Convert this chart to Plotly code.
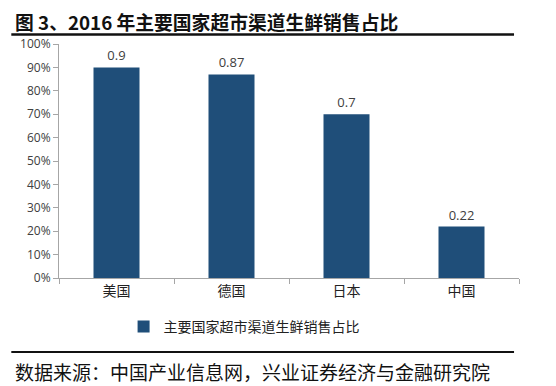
import plotly.graph_objects as go

categories = ["美国", "德国", "日本", "中国"]
values = [0.9, 0.87, 0.7, 0.22]
value_labels = ["0.9", "0.87", "0.7", "0.22"]
series_name = "主要国家超市渠道生鲜销售占比"
title_text = "图 3、2016 年主要国家超市渠道生鲜销售占比"
source_text = "数据来源：中国产业信息网，兴业证券经济与金融研究院"

# the page body has an 8px default margin, so the figure is drawn 8px in
OFF = 8
W, H = 556 - OFF, 386 - OFF
L, R, T, B = 56 - OFF, 37, 44 - OFF, 108
pw, ph = W - L - R, H - T - B

def px_x(x):
    return (x - OFF - L) / pw

def px_y(y):
    return (H - B - (y - OFF)) / ph

CJK = "Noto Sans CJK SC, Noto Sans, sans-serif"
bar_color = "#1F4E79"
text_color = "#404040"
axis_color = "#A6A6A6"

fig = go.Figure()
fig.add_trace(go.Bar(
    x=categories, y=values, name=series_name,
    marker=dict(color=bar_color, line=dict(width=0)),
    text=value_labels, textposition="outside",
    textfont=dict(size=13, color=text_color, family="Open Sans, sans-serif"),
    cliponaxis=False,
))

fig.update_layout(
    width=W, height=H,
    margin=dict(l=L, r=R, t=T, b=B),
    paper_bgcolor="white", plot_bgcolor="white",
    bargap=0.6,
    showlegend=True,
    legend=dict(orientation="h", x=px_x(121), xanchor="left", y=px_y(327), yanchor="middle",
                font=dict(size=14, color="#222222", family=CJK),
                itemwidth=30, bgcolor="rgba(0,0,0,0)"),
    annotations=[
        dict(text=title_text, xref="paper", yref="paper", x=px_x(10), y=px_y(22),
             xanchor="left", yanchor="middle", showarrow=False,
             font=dict(size=18.8, color="#111111", family=CJK, weight="bold")),
        dict(text=source_text, xref="paper", yref="paper", x=px_x(10), y=px_y(371),
             xanchor="left", yanchor="middle", showarrow=False,
             font=dict(size=19, color="#111111", family=CJK)),
    ],
    xaxis=dict(showline=True, linecolor=axis_color, linewidth=1,
               ticks="outside", tickson="boundaries", ticklen=5, tickcolor=axis_color,
               tickfont=dict(size=14, color="#222222", family=CJK),
               showgrid=False),
    yaxis=dict(range=[0, 1], dtick=0.1, tickformat=".0%",
               showline=True, linecolor=axis_color, linewidth=1,
               ticks="outside", ticklen=5, tickcolor=axis_color,
               tickfont=dict(size=12, color=text_color, family="Open Sans, sans-serif"),
               showgrid=False, zeroline=False),
    shapes=[
        dict(type="line", xref="paper", yref="paper", x0=px_x(OFF), x1=px_x(514),
             y0=px_y(34.5), y1=px_y(34.5), line=dict(color="#111111", width=2.5)),
        dict(type="line", xref="paper", yref="paper", x0=px_x(OFF), x1=px_x(514),
             y0=px_y(352), y1=px_y(352), line=dict(color="#111111", width=2)),
    ],
)

fig.write_html("out.html")
